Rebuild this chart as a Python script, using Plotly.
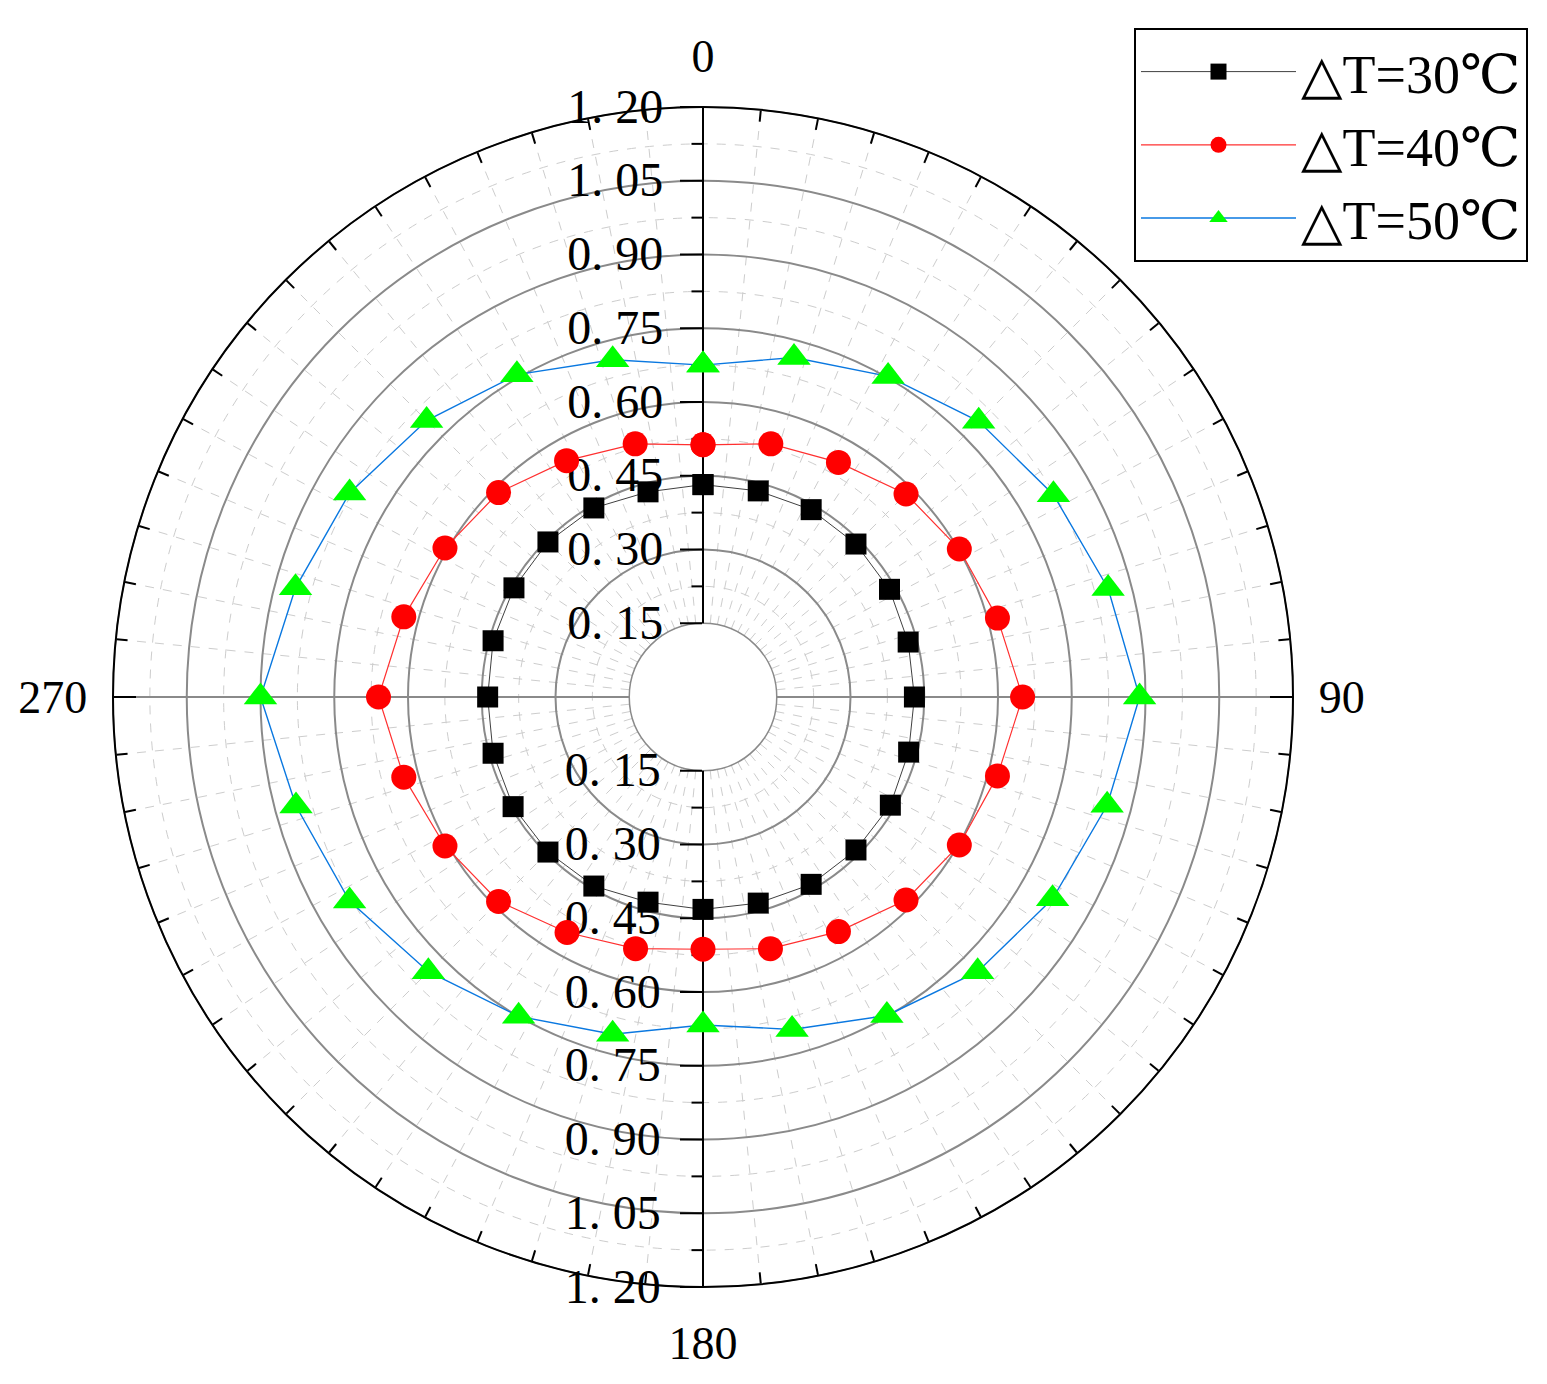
import plotly.graph_objects as go

# ---------------- data ----------------
theta_deg = [0, 15, 30, 45, 60, 75, 90, 105, 120, 135, 150, 165,
             180, 195, 210, 225, 240, 255, 270, 285, 300, 315, 330, 345]
dt30 = [0.432, 0.434, 0.440, 0.440, 0.438, 0.432, 0.430, 0.433, 0.440, 0.440, 0.440, 0.434,
        0.432, 0.432, 0.444, 0.446, 0.446, 0.442, 0.438, 0.442, 0.444, 0.446, 0.444, 0.432]
dt40 = [0.513, 0.533, 0.551, 0.584, 0.602, 0.620, 0.650, 0.620, 0.602, 0.584, 0.551, 0.530,
        0.513, 0.530, 0.553, 0.588, 0.606, 0.630, 0.660, 0.630, 0.606, 0.588, 0.555, 0.533]
dt50 = [0.675, 0.715, 0.753, 0.793, 0.823, 0.853, 0.888, 0.851, 0.821, 0.790, 0.748, 0.700,
        0.667, 0.710, 0.750, 0.790, 0.830, 0.857, 0.900, 0.858, 0.830, 0.795, 0.757, 0.710]
series_names = ["△T=30℃", "△T=40℃", "△T=50℃"]

r_major = [0.15, 0.30, 0.45, 0.60, 0.75, 0.90, 1.05, 1.20]
r_major_text = ["0. 15", "0. 30", "0. 45", "0. 60", "0. 75", "0. 90", "1. 05", "1. 20"]
r_minor = [0.225, 0.375, 0.525, 0.675, 0.825, 0.975, 1.125]
ang_major = [0, 90, 180, 270]
ang_major_text = ["0", "90", "180", "270"]
ang_minor = [i * 5.625 for i in range(64) if i % 16 != 0]

FONT = "Liberation Serif, DejaVu Serif, serif"
W, H = 1547, 1384
cx0, cx1 = 113, 1293
cy0, cy1 = 107, 1287
DOM = dict(x=[cx0 / W, cx1 / W], y=[1 - cy1 / H, 1 - cy0 / H])
HOLE = 0.125
RRANGE = [0.15, 1.2]
CLEAR = "rgba(0,0,0,0)"


def ang_base(**kw):
    d = dict(rotation=90, direction="clockwise", showgrid=False, ticks="",
             showticklabels=False, showline=False, tickmode="array", tickvals=ang_major)
    d.update(kw)
    return d


def rad_base(**kw):
    d = dict(range=RRANGE, showgrid=False, ticks="", showticklabels=False,
             showline=False, tickmode="array", tickvals=r_major)
    d.update(kw)
    return d


fig = go.Figure()

# empty carrier traces so that the grid-only subplots are rendered
for sp in ["polar", "polar2", "polar3", "polar4"]:
    fig.add_trace(go.Scatterpolar(r=[], theta=[], mode="markers", subplot=sp,
                                  showlegend=False, hoverinfo="skip"))

closed = lambda v: list(v) + [v[0]]
th_c = closed(theta_deg)

styles = [
    dict(line=dict(color="#404040", width=1),
         marker=dict(symbol="square", size=21, color="black")),
    dict(line=dict(color="#ff3030", width=1.2),
         marker=dict(symbol="circle", size=25, color="#ff0000")),
    dict(line=dict(color="#0a78e0", width=1.4),
         marker=dict(symbol="triangle-up", size=29, color="#00ff00")),
]
for name, vals, st in zip(series_names, [dt30, dt40, dt50], styles):
    fig.add_trace(go.Scatterpolar(r=closed(vals), theta=th_c, mode="lines+markers",
                                  name=name, subplot="polar5", **st))

TICKFONT_R = dict(family=FONT, size=48, color="black")
TICKFONT_A = dict(family=FONT, size=46, color="black")

# 1: minor dashed grids, top minor radial ticks, angular minor ticks, gray inner circle
fig.update_layout(polar=dict(
    domain=DOM, hole=HOLE, bgcolor="white",
    radialaxis=rad_base(tickvals=r_minor, showgrid=True, gridcolor="#cdcdcd",
                        griddash="dash", gridwidth=1, ticks="outside", ticklen=11,
                        tickwidth=2, tickcolor="black", angle=90, side="counterclockwise"),
    angularaxis=ang_base(tickvals=ang_minor, showgrid=True,
                         gridcolor="#cdcdcd", griddash="dash", gridwidth=1,
                         ticks="inside", ticklen=11, tickwidth=2, tickcolor="black",
                         showline=True, linecolor="#8a8a8a", linewidth=1.5),
))
# 2: major gray grids, top radial axis with labels, angular labels
fig.update_layout(polar2=dict(
    domain=DOM, hole=HOLE, bgcolor=CLEAR,
    radialaxis=rad_base(ticktext=r_major_text, showgrid=True,
                        gridcolor="#8a8a8a", gridwidth=1.5, showline=True,
                        linecolor="black", linewidth=2, ticks="outside", ticklen=22,
                        tickwidth=2, tickcolor="black", angle=90, side="counterclockwise",
                        tickangle=90, showticklabels=True, tickfont=TICKFONT_R),
    angularaxis=ang_base(ticktext=ang_major_text, showgrid=True, gridcolor="#8a8a8a",
                         gridwidth=1.5, ticks="outside", ticklen=16, tickcolor=CLEAR,
                         showticklabels=True, tickfont=TICKFONT_A),
))
# 3: black outer circle + major angular ticks (no hole -> only the outer line)
fig.update_layout(polar3=dict(
    domain=DOM, hole=0, bgcolor=CLEAR,
    radialaxis=dict(range=[0, 1.2], showgrid=False, ticks="", showticklabels=False,
                    showline=False),
    angularaxis=ang_base(ticks="inside", ticklen=22, tickwidth=2, tickcolor="black",
                         showline=True, linecolor="black", linewidth=2),
))
# 4: bottom minor radial ticks
fig.update_layout(polar4=dict(
    domain=DOM, hole=HOLE, bgcolor=CLEAR,
    radialaxis=rad_base(tickvals=r_minor, ticks="outside", ticklen=11, tickwidth=2,
                        tickcolor="black", angle=270, side="clockwise"),
    angularaxis=ang_base(),
))
# 5: bottom radial axis with labels + data
fig.update_layout(polar5=dict(
    domain=DOM, hole=HOLE, bgcolor=CLEAR,
    radialaxis=rad_base(ticktext=r_major_text, showline=True,
                        linecolor="black", linewidth=2, ticks="outside", ticklen=22,
                        tickwidth=2, tickcolor="black", angle=270, side="clockwise",
                        tickangle=-90, showticklabels=True, layer="below traces",
                        tickfont=TICKFONT_R),
    angularaxis=ang_base(layer="below traces"),
))

fig.update_layout(
    width=W, height=H, margin=dict(l=0, r=0, t=0, b=0),
    paper_bgcolor="white", plot_bgcolor="white",
    showlegend=True,
    legend=dict(x=1528 / W, xanchor="right", y=1 - 28 / H, yanchor="top",
                bordercolor="black", borderwidth=2, bgcolor="white",
                font=dict(family=FONT, size=54, color="black"),
                itemwidth=155, tracegroupgap=0),
)

fig.write_html("out.html", config={"displayModeBar": False},
               post_script="document.body.style.margin='0px';")
